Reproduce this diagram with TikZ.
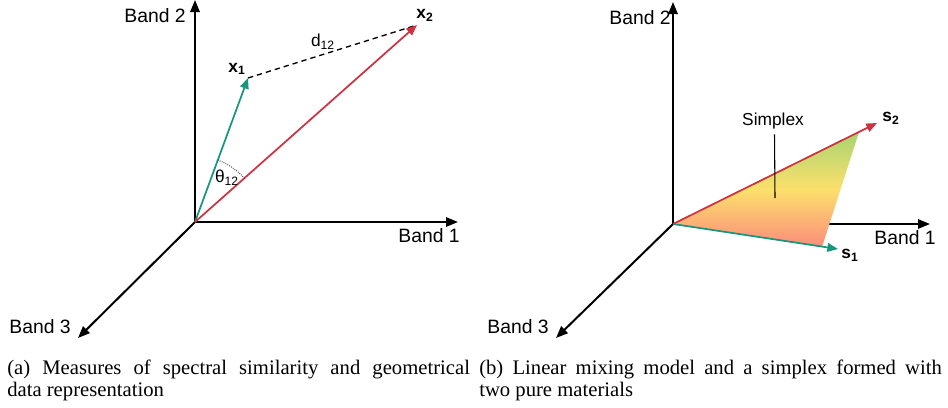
\documentclass[tikz,border=0pt]{standalone}
\usepackage{fontspec}
\setmainfont{Liberation Serif}
\setsansfont{Liberation Sans}
\usetikzlibrary{positioning,arrows.meta}

\definecolor{vecgreen}{RGB}{24,150,124}
\definecolor{vecred}{RGB}{206,50,66}
\definecolor{simpgreen}{RGB}{168,212,112}
\definecolor{simpyellow}{RGB}{252,224,108}
\definecolor{simpsalmon}{RGB}{252,140,124}

\begin{document}
\begin{tikzpicture}[x=0.75pt, y=-0.75pt,
    axis/.style={line width=1.5pt, -{Triangle[length=9pt, width=7pt]}},
    vec/.style={line width=1.3pt, -{Triangle[length=8pt, width=6.5pt]}},
    blabel/.style={font=\sffamily\fontsize{14.5}{17}\selectfont, inner sep=0pt},
    vlabel/.style={font=\sffamily\bfseries\fontsize{13}{15}\selectfont, inner sep=0pt},
    slabel/.style={font=\sffamily\fontsize{13}{15}\selectfont, inner sep=0pt},
    caption/.style={font=\fontsize{15.5}{17}\selectfont, text width=347pt,
                    align=justify, inner sep=0pt, anchor=base west}
]
\useasboundingbox (0,0) rectangle (948,407);

% (a) spectral similarity
\coordinate (o1) at (195,222);
\coordinate (b1a) at (458,222);
\coordinate (b2a) at (195,0);
\coordinate (b3a) at (78,338);
\coordinate (x1) at (248,78);
\coordinate (x2) at (417,25);

\draw[axis] (o1) -- (b1a);
\draw[axis] (o1) -- (b2a);
\draw[axis] (o1) -- (b3a);

\draw[line width=1pt, dash pattern=on 4pt off 3pt] (x1) -- (x2);
\draw[vec, vecgreen] (o1) -- (x1);
\draw[vec, vecred] (o1) -- (x2);
\draw[densely dotted, line width=0.6pt] (o1) ++(-69.8:66) arc[start angle=-69.8, end angle=-41.6, radius=66];

\node[blabel] (band2a) at (155,16) {Band 2};
\node[blabel] (band1a) at (429,236) {Band 1};
\node[blabel] (band3a) at (40,327) {Band 3};
\node[vlabel] (x1lab) at (237,69) {x\textsubscript{1}};
\node[vlabel] (x2lab) at (425,15) {x\textsubscript{2}};
\node[slabel] (dlab) at (323,42) {d\textsubscript{12}};
\node[slabel] (tlab) at (227,178) {θ\textsubscript{12}};

% (b) linear mixing model
\coordinate (o2) at (673,224);
\coordinate (b1b) at (930,224);
\coordinate (b2b) at (673,2);
\coordinate (b3b) at (556,338);
\coordinate (s1) at (838,249);
\coordinate (s2) at (877,123);
\coordinate (c1) at (822,247);
\coordinate (c2) at (859,132);

\draw[axis] (o2) -- (b1b);
\draw[axis] (o2) -- (b2b);
\draw[axis] (o2) -- (b3b);

\shade[top color=simpgreen, bottom color=simpsalmon, middle color=simpyellow]
  (o2) -- (c2) -- (c1) -- cycle;
\draw[vec, vecgreen] (o2) -- (s1);
\draw[vec, vecred] (o2) -- (s2);

\node[blabel] (band2b) at (640,18) {Band 2};
\node[blabel] (band1b) at (905,238) {Band 1};
\node[blabel] (band3b) at (518,327) {Band 3};
\node[vlabel] (s1lab) at (850,255) {s\textsubscript{1}};
\node[vlabel] (s2lab) at (891,118) {s\textsubscript{2}};
\node[slabel] (simp) at (773,121) {Simplex};
\coordinate (simptip) at (775,198);
\draw[line width=0.8pt] (simp.south) ++(1.5,5) coordinate (simptop) -- (simptip);

% captions
\node[caption] (capa) at (7,374) {(a) Measures of spectral similarity and geometrical\linebreak data representation};
\node[caption] (capb) at (479,374) {(b) Linear mixing model and a simplex formed with\linebreak two pure materials};

\end{tikzpicture}
\end{document}
